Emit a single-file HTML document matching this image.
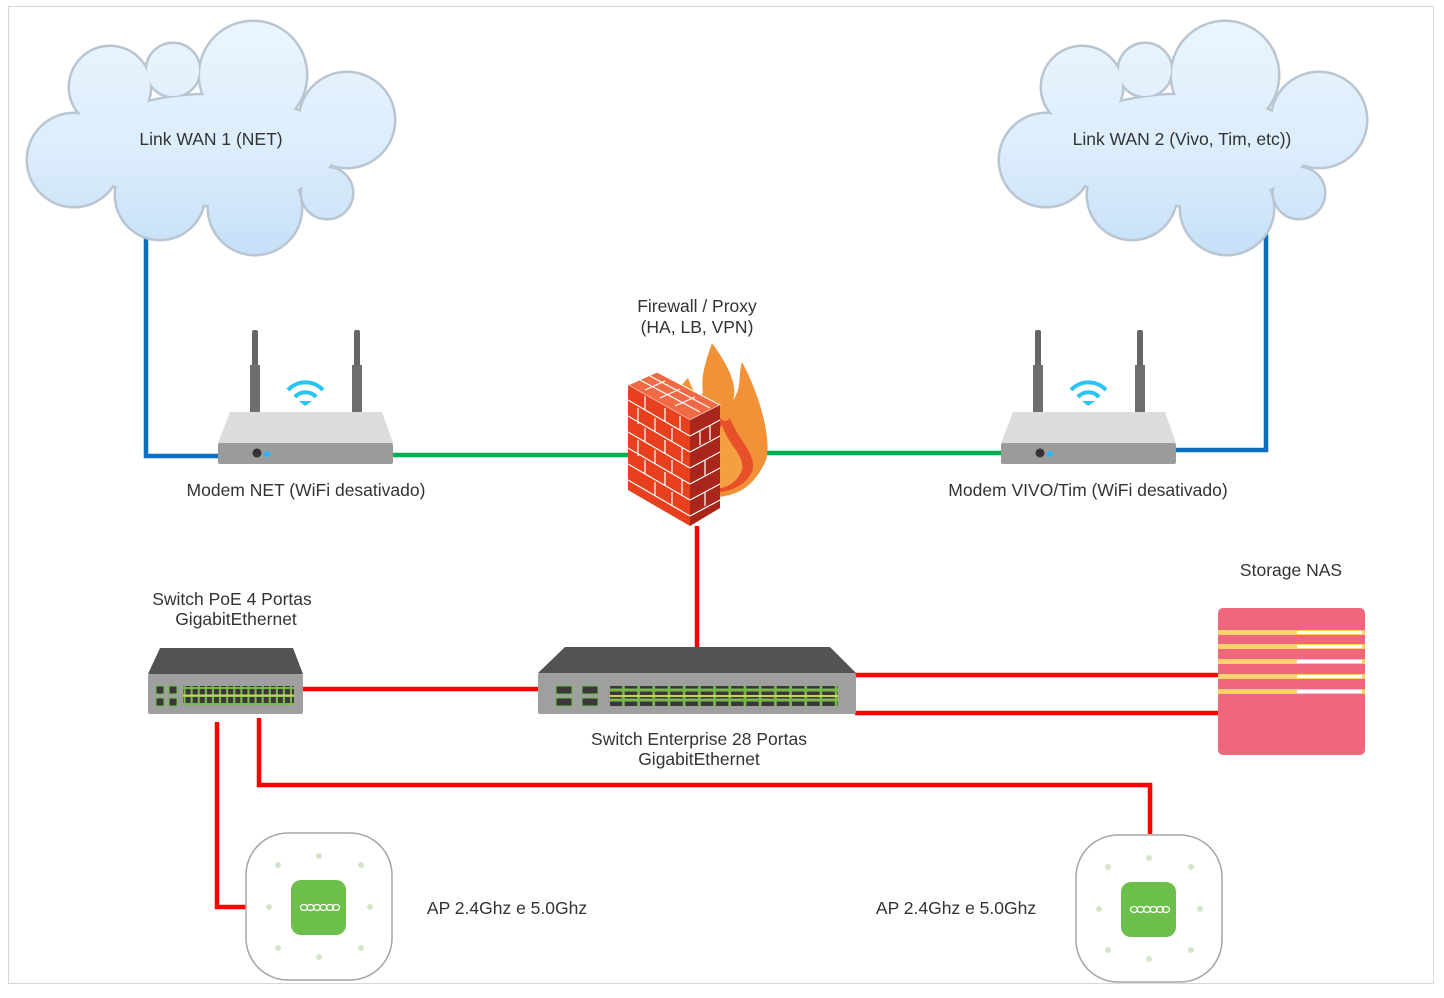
<!DOCTYPE html>
<html><head><meta charset="utf-8"><style>
html,body{margin:0;padding:0;background:#fff}
svg{display:block}
text{font-family:"Liberation Sans",sans-serif;font-size:17.5px;fill:#333}
</style></head><body>
<svg width="1444" height="998" viewBox="0 0 1444 998">
<defs>
<linearGradient id="cg" gradientUnits="userSpaceOnUse" x1="0" y1="20" x2="0" y2="255"><stop offset="0" stop-color="#eaf5fe"/><stop offset="0.55" stop-color="#dcedfc"/><stop offset="1" stop-color="#c6e0f8"/></linearGradient>
<g id="cloud">
 <g fill="#b9c6d2" stroke="#b9c6d2" stroke-width="5">
  <circle cx="74" cy="160" r="46"/><circle cx="110" cy="87" r="40"/><circle cx="173" cy="70" r="26"/>
  <circle cx="253" cy="75" r="53"/><circle cx="347" cy="120" r="47"/><circle cx="160" cy="195" r="44"/>
  <circle cx="255" cy="208" r="46"/><circle cx="327" cy="193" r="25"/><ellipse cx="210" cy="150" rx="125" ry="55"/>
 </g>
 <g fill="url(#cg)">
  <circle cx="74" cy="160" r="46"/><circle cx="110" cy="87" r="40"/><circle cx="173" cy="70" r="26"/>
  <circle cx="253" cy="75" r="53"/><circle cx="347" cy="120" r="47"/><circle cx="160" cy="195" r="44"/>
  <circle cx="255" cy="208" r="46"/><circle cx="327" cy="193" r="25"/><ellipse cx="210" cy="150" rx="125" ry="55"/>
 </g>
</g>
<g id="router">
 <rect x="-3" y="0" width="6" height="82" rx="2" fill="#666"/>
 <rect x="99" y="0" width="6" height="82" rx="2" fill="#666"/>
 <rect x="-5" y="35" width="10" height="47" fill="#6e6e6e"/>
 <rect x="97" y="35" width="10" height="47" fill="#6e6e6e"/>
 <polygon points="-25,82 127,82 138,113 -37,113" fill="#dcdcdc"/>
 <rect x="-37" y="113" width="175" height="21" rx="2" fill="#9b9b9b"/>
 <circle cx="2" cy="123" r="4.5" fill="#333"/><circle cx="12" cy="124" r="3" fill="#29b6f6"/>
 <g fill="none" stroke="#29c3f6" stroke-width="4">
  <path d="M33,60 A24,24 0 0 1 68,60"/><path d="M40,67 A14,14 0 0 1 61,67"/>
 </g>
 <path d="M44,71 L50,76 L57,71 Z" fill="#29c3f6"/>
</g>
<pattern id="pp" x="0" y="0" width="15.2" height="10" patternUnits="userSpaceOnUse"><rect x="1.5" y="1.5" width="12.5" height="7" fill="#3b3738"/></pattern>
<pattern id="ps" x="0" y="0" width="7.1" height="8" patternUnits="userSpaceOnUse"><rect x="1" y="1" width="5" height="6" fill="#3b3738"/></pattern>
<g id="ap">
 <rect x="0" y="0" width="146" height="147" rx="42" fill="#fff" stroke="#a5a5a5" stroke-width="1.5"/>
 <g fill="#d5e5c8"><circle cx="73" cy="23" r="3"/><circle cx="32" cy="32" r="3"/><circle cx="115" cy="32" r="3"/><circle cx="23" cy="74" r="3"/><circle cx="124" cy="74" r="3"/><circle cx="32" cy="115" r="3"/><circle cx="115" cy="115" r="3"/><circle cx="73" cy="124" r="3"/></g>
 <rect x="45" y="47" width="55" height="55" rx="10" fill="#6cbf4a"/>
 <g fill="none" stroke="#fff" stroke-width="1.2"><ellipse cx="58" cy="74.5" rx="3.5" ry="3"/><ellipse cx="64.5" cy="74.5" rx="3.5" ry="3"/><ellipse cx="71" cy="74.5" rx="3.5" ry="3"/><ellipse cx="77.5" cy="74.5" rx="3.5" ry="3"/><ellipse cx="84" cy="74.5" rx="3.5" ry="3"/><ellipse cx="90" cy="74.5" rx="3.5" ry="3"/></g>
</g>
</defs>
<rect x="8.5" y="6.5" width="1425" height="977" fill="none" stroke="#d8d8d8"/>

<g fill="none" stroke-width="4.5">
 <path d="M146,234 V456 H220" stroke="#0a6fc2"/>
 <path d="M1266,228 V450 H1173" stroke="#0a6fc2"/>
 <path d="M393,455 H630" stroke="#00b050"/>
 <path d="M762,453 H1002" stroke="#00b050"/>
 <g stroke="#ff0000">
  <path d="M697,526 V650"/>
  <path d="M302,689 H540"/>
  <path d="M855,675 H1219"/><path d="M855,713 H1219"/>
  <path d="M217,722 V907 H247"/>
  <path d="M259,718 V785 H1150 V834"/>
 </g>
</g>

<use href="#cloud" x="0" y="0"/>
<use href="#cloud" x="972" y="0"/>
<text x="211" y="145" text-anchor="middle">Link WAN 1 (NET)</text>
<text x="1182" y="145" text-anchor="middle">Link WAN 2 (Vivo, Tim, etc))</text>

<use href="#router" x="255" y="330"/>
<use href="#router" x="1038" y="330"/>
<text x="306" y="496" text-anchor="middle">Modem NET (WiFi desativado)</text>
<text x="1088" y="496" text-anchor="middle">Modem VIVO/Tim (WiFi desativado)</text>

<text x="697" y="312" text-anchor="middle">Firewall / Proxy</text>
<text x="697" y="333" text-anchor="middle">(HA, LB, VPN)</text>
<path d="M680,490 C655,440 670,395 688,378 C693,392 698,398 703,393 C700,375 708,355 712,343 C728,365 738,385 733,400 C742,388 738,375 742,362 C760,395 772,440 766,460 C755,485 740,495 718,497 Z" fill="#f29238"/>
<path d="M700,492 C688,455 698,420 712,400 C718,420 725,425 730,418 C738,440 758,455 752,472 C744,488 725,495 700,492Z" fill="#e8502a"/>
<path d="M712,488 C705,460 712,440 722,425 C728,445 745,455 742,470 C737,483 725,490 712,488Z" fill="#f5a040"/>
<polygon points="628,385 657,372 720,405 690,420" fill="#ef6a45" stroke="#fff" stroke-width="1"/>
<polygon points="628,385 690,420 690,526 628,490" fill="#e8401f"/>
<polygon points="690,420 720,405 720,508 690,526" fill="#a8271a"/>
<g stroke="#fff" stroke-width="1.2" fill="none">
 <path d="M628,400 L690,436 M628,416 L690,452 M628,432 L690,468 M628,448 L690,484 M628,464 L690,500 M628,480 L690,516"/>
 <path d="M690,436 L720,420 M690,452 L720,436 M690,468 L720,452 M690,484 L720,468 M690,500 L720,484 M690,516 L720,500"/>
 <path d="M645,396 V410 M665,408 V422 M680,416 V430 M638,408 V424 M655,418 V432 M672,428 V442 M645,428 V442 M665,440 V454 M682,448 V462 M638,440 V456 M655,450 V464 M672,460 V474 M645,460 V474 M665,472 V486 M682,480 V494 M655,482 V496 M672,492 V506 M700,430 V445 M710,425 V440 M705,460 V475 M705,492 V506"/>
 <path d="M640,380 L700,412 M650,376 L710,408 M645,390 L665,381 M660,398 L680,389 M675,406 L695,397"/>
</g>

<text x="232" y="605" text-anchor="middle">Switch PoE 4 Portas</text>
<text x="236" y="625" text-anchor="middle">GigabitEthernet</text>
<polygon points="160,648 293,648 303,674 148,674" fill="#545253"/>
<rect x="148" y="674" width="155" height="40" rx="2" fill="#9e9f9e"/>
<rect x="156" y="686" width="8" height="8" fill="#3b3738" stroke="#6cbf4a"/>
<rect x="169" y="686" width="8" height="8" fill="#3b3738" stroke="#6cbf4a"/>
<rect x="156" y="698" width="8" height="8" fill="#3b3738" stroke="#6cbf4a"/>
<rect x="169" y="698" width="8" height="8" fill="#3b3738" stroke="#6cbf4a"/>
<rect x="183" y="686" width="111" height="19" fill="#79b94a"/>
<rect x="183" y="686" width="111" height="19" fill="url(#ps)"/>
<rect x="183" y="694.5" width="111" height="2" fill="#c8d660"/>

<polygon points="565,647 830,647 856,673 538,673" fill="#545253"/>
<rect x="538" y="673" width="318" height="41" rx="2" fill="#9e9f9e"/>
<rect x="556" y="686" width="16" height="8" fill="#3b3738" stroke="#6cbf4a"/>
<rect x="582" y="686" width="16" height="8" fill="#3b3738" stroke="#6cbf4a"/>
<rect x="556" y="698" width="16" height="8" fill="#3b3738" stroke="#6cbf4a"/>
<rect x="582" y="698" width="16" height="8" fill="#3b3738" stroke="#6cbf4a"/>
<rect x="610" y="686" width="228" height="20" fill="#79b94a"/>
<rect x="610" y="686" width="228" height="20" fill="url(#pp)"/>
<rect x="610" y="695" width="228" height="2" fill="#c8d660"/>
<text x="699" y="745" text-anchor="middle">Switch Enterprise 28 Portas</text>
<text x="699" y="765" text-anchor="middle">GigabitEthernet</text>

<text x="1291" y="576" text-anchor="middle">Storage NAS</text>
<rect x="1218" y="608" width="147" height="147" rx="5" fill="#f0677d"/>
<g fill="#fcd26a"><rect x="1218" y="630" width="147" height="5"/><rect x="1218" y="644" width="147" height="5"/><rect x="1218" y="659" width="147" height="5"/><rect x="1218" y="674" width="147" height="5"/><rect x="1218" y="689" width="147" height="5"/></g>
<g fill="#fff"><rect x="1297" y="631" width="65" height="3"/><rect x="1297" y="645" width="65" height="3"/><rect x="1297" y="660" width="65" height="3"/><rect x="1297" y="675" width="65" height="3"/><rect x="1297" y="690" width="65" height="3"/></g>

<use href="#ap" x="246" y="833"/>
<use href="#ap" x="1076" y="835"/>
<text x="507" y="914" text-anchor="middle">AP 2.4Ghz e 5.0Ghz</text>
<text x="956" y="914" text-anchor="middle">AP 2.4Ghz e 5.0Ghz</text>
</svg>
</body></html>
